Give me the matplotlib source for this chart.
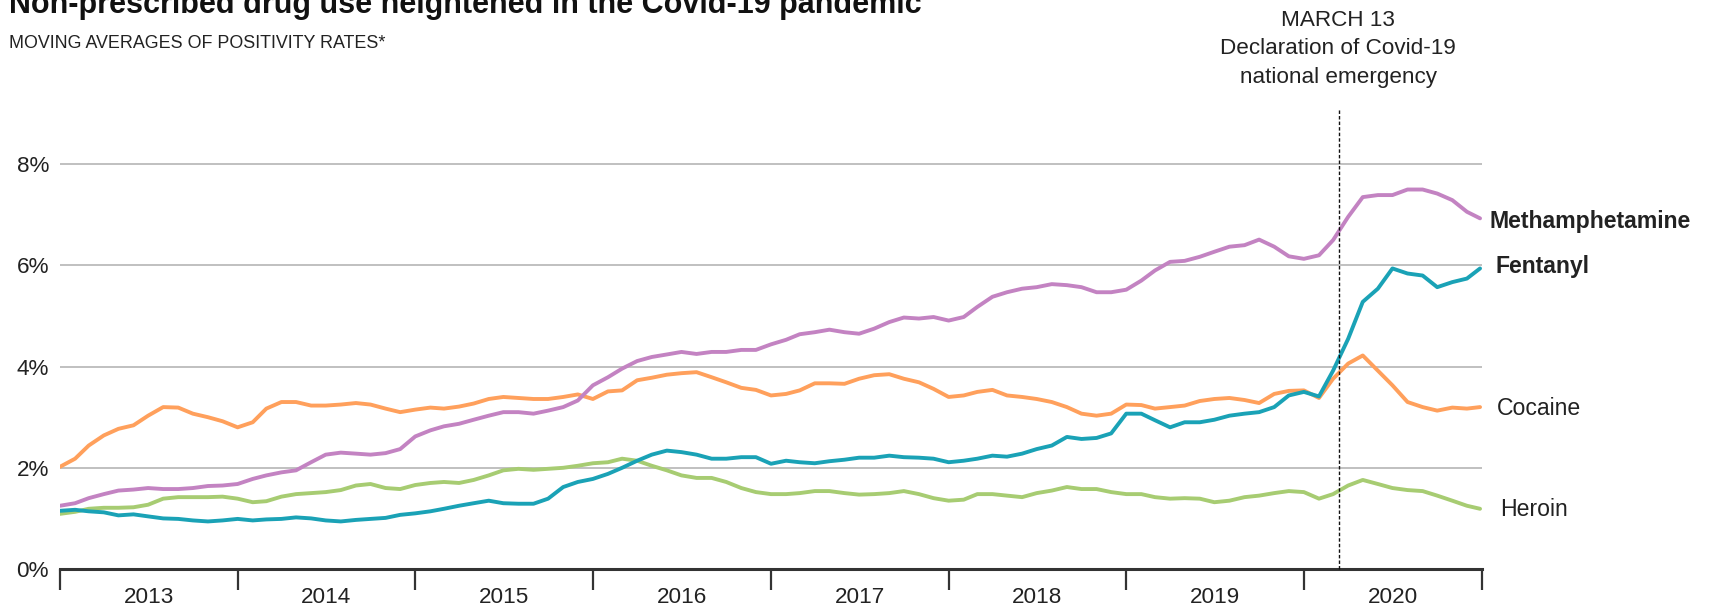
import matplotlib
matplotlib.use("Agg")
import matplotlib.pyplot as plt
import pandas as pd

plt.rcParams['font.family'] = ['Liberation Sans', 'DejaVu Sans']

# Monthly readings, Jan 2013 .. Dec 2020, plus final point at end of 2020
dates = list(pd.date_range("2013-01-01", periods=96, freq="MS")) + [pd.Timestamp("2020-12-28")]

methamphetamine = [
    1.25, 1.30, 1.40, 1.48, 1.55, 1.57, 1.60, 1.58, 1.58, 1.60, 1.64, 1.65,
    1.68, 1.78, 1.85, 1.91, 1.95, 2.11, 2.26, 2.30, 2.28, 2.26, 2.29, 2.37,
    2.62, 2.74, 2.82, 2.87, 2.95, 3.03, 3.10, 3.10, 3.07, 3.13, 3.20, 3.33,
    3.63, 3.79, 3.96, 4.11, 4.19, 4.24, 4.29, 4.25, 4.29, 4.29, 4.33, 4.33,
    4.44, 4.53, 4.64, 4.68, 4.73, 4.68, 4.65, 4.75, 4.88, 4.97, 4.95, 4.98,
    4.91, 4.98, 5.18, 5.38, 5.47, 5.54, 5.57, 5.63, 5.61, 5.57, 5.47, 5.47,
    5.52, 5.70, 5.90, 6.07, 6.09, 6.17, 6.27, 6.37, 6.40, 6.51, 6.37, 6.18,
    6.13, 6.20, 6.50, 6.96, 7.35, 7.39, 7.39, 7.50, 7.50, 7.42, 7.29, 7.06,
    6.93,
]
fentanyl = [
    1.15, 1.17, 1.14, 1.12, 1.06, 1.08, 1.04, 1.00, 0.99, 0.96, 0.94, 0.96,
    0.99, 0.96, 0.98, 0.99, 1.02, 1.00, 0.96, 0.94, 0.97, 0.99, 1.01, 1.07,
    1.10, 1.14, 1.19, 1.25, 1.30, 1.35, 1.30, 1.29, 1.29, 1.39, 1.62, 1.72,
    1.78, 1.88, 2.00, 2.14, 2.26, 2.34, 2.31, 2.26, 2.18, 2.18, 2.21, 2.21,
    2.08, 2.14, 2.11, 2.09, 2.13, 2.16, 2.20, 2.20, 2.24, 2.21, 2.20, 2.18,
    2.11, 2.14, 2.18, 2.24, 2.22, 2.28, 2.37, 2.44, 2.61, 2.57, 2.59, 2.68,
    3.07, 3.07, 2.94, 2.80, 2.90, 2.90, 2.95, 3.03, 3.07, 3.10, 3.20, 3.43,
    3.50, 3.41, 3.92, 4.55, 5.28, 5.54, 5.94, 5.84, 5.80, 5.57, 5.67, 5.74,
    5.94,
]
cocaine = [
    2.02, 2.18, 2.44, 2.64, 2.77, 2.84, 3.03, 3.20, 3.19, 3.07, 3.00, 2.92,
    2.80, 2.90, 3.17, 3.30, 3.30, 3.23, 3.23, 3.25, 3.28, 3.25, 3.17, 3.10,
    3.15, 3.19, 3.17, 3.21, 3.27, 3.36, 3.40, 3.38, 3.36, 3.36, 3.40, 3.45,
    3.36, 3.51, 3.53, 3.73, 3.78, 3.84, 3.87, 3.89, 3.79, 3.69, 3.58, 3.54,
    3.43, 3.46, 3.53, 3.67, 3.67, 3.66, 3.76, 3.83, 3.85, 3.76, 3.69, 3.56,
    3.40, 3.43, 3.50, 3.54, 3.43, 3.40, 3.36, 3.30, 3.20, 3.07, 3.03, 3.07,
    3.25, 3.24, 3.17, 3.20, 3.23, 3.32, 3.36, 3.38, 3.34, 3.28, 3.46, 3.52,
    3.53, 3.38, 3.76, 4.06, 4.22, 3.92, 3.63, 3.30, 3.20, 3.13, 3.19, 3.17,
    3.20,
]
heroin = [
    1.09, 1.13, 1.19, 1.21, 1.21, 1.22, 1.27, 1.39, 1.42, 1.42, 1.42, 1.43,
    1.39, 1.32, 1.34, 1.43, 1.48, 1.50, 1.52, 1.56, 1.65, 1.68, 1.60, 1.58,
    1.66, 1.70, 1.72, 1.70, 1.76, 1.85, 1.95, 1.98, 1.96, 1.98, 2.00, 2.04,
    2.09, 2.11, 2.18, 2.14, 2.04, 1.95, 1.85, 1.80, 1.80, 1.72, 1.60, 1.52,
    1.48, 1.48, 1.50, 1.54, 1.54, 1.50, 1.47, 1.48, 1.50, 1.54, 1.48, 1.40,
    1.35, 1.37, 1.48, 1.48, 1.45, 1.42, 1.50, 1.55, 1.62, 1.58, 1.58, 1.52,
    1.48, 1.48, 1.42, 1.39, 1.40, 1.39, 1.32, 1.35, 1.42, 1.45, 1.50, 1.54,
    1.52, 1.39, 1.48, 1.65, 1.76, 1.68, 1.60, 1.56, 1.54, 1.45, 1.35, 1.25,
    1.19,
]

series = [
    ("Heroin", heroin, "#a7cc72", False),
    ("Cocaine", cocaine, "#ffa05c", False),
    ("Methamphetamine", methamphetamine, "#c383c2", True),
    ("Fentanyl", fentanyl, "#1aa2b6", True),
]
label_y = {"Methamphetamine": 6.86, "Fentanyl": 5.97, "Cocaine": 3.18, "Heroin": 1.17}
label_dx = {"Methamphetamine": 9, "Fentanyl": 15, "Cocaine": 17, "Heroin": 20}

yticks = [0, 2, 4, 6, 8]
ytick_labels = ["0%", "2%", "4%", "6%", "8%"]
years = list(range(2013, 2021))
event_date = pd.Timestamp("2020-03-13")
event_text = ["MARCH 13", "Declaration of Covid-19", "national emergency"]

W, H = 1712, 608
fig = plt.figure(figsize=(W / 100, H / 100), dpi=100)
ax = fig.add_axes([60 / W, 1 - 569 / H, (1482 - 60) / W, (569 - 103.5) / H])

for name, vals, col, bold in series:
    ax.plot(dates, vals, color=col, lw=2.8, solid_capstyle="round", solid_joinstyle="round", zorder=3)
    ax.annotate(name, xy=(dates[-1], label_y[name]), xytext=(label_dx[name], 0),
                textcoords="offset pixels", va="center", ha="left",
                fontsize=16.6, color="#222222", fontweight="bold" if bold else "normal",
                annotation_clip=False)

ax.set_xlim(pd.Timestamp("2013-01-01"), pd.Timestamp("2021-01-01"))
ax.set_ylim(0, 9.2)

for v in yticks[1:]:
    ax.axhline(v, color="#b5b5b5", lw=1.2, zorder=1)

ax.set_yticks(yticks)
ax.set_yticklabels(ytick_labels)
ax.tick_params(axis="y", length=0, pad=8, labelsize=16.2, labelcolor="#222222")

ax.set_xticks([pd.Timestamp(f"{y}-01-01") for y in years] + [pd.Timestamp("2021-01-01")])
ax.set_xticklabels([])
ax.set_xticks([pd.Timestamp(f"{y}-07-02") for y in years], minor=True)
ax.set_xticklabels([str(y) for y in years], minor=True)
ax.tick_params(axis="x", which="major", length=15, width=1.6, color="#333333", direction="out")
ax.tick_params(axis="x", which="minor", length=0, pad=13, labelsize=16.2, labelcolor="#222222")

for s in ["top", "right", "left"]:
    ax.spines[s].set_visible(False)
ax.spines["bottom"].set_color("#333333")
ax.spines["bottom"].set_linewidth(2.2)
ax.spines["bottom"].set_zorder(4)

ax.plot([event_date, event_date], [0, 9.12], color="#111111", lw=1.0, ls=(0, (2.5, 1.5)), zorder=5, clip_on=False)

for i, t in enumerate(event_text):
    fig.text(1338 / W, 1 - [20, 49, 77][i] / H, t, ha="center", va="center", fontsize=16.2, color="#222222")

fig.text(9 / W, 1 - 13 / H, "Non-prescribed drug use heightened in the Covid-19 pandemic",
         ha="left", va="baseline", fontsize=22, fontweight="bold", color="#111111")
fig.text(9 / W, 1 - 44 / H, "MOVING AVERAGES OF POSITIVITY RATES*",
         ha="left", va="center", fontsize=12.9, color="#222222")

fig.savefig("out.png", dpi=100)
